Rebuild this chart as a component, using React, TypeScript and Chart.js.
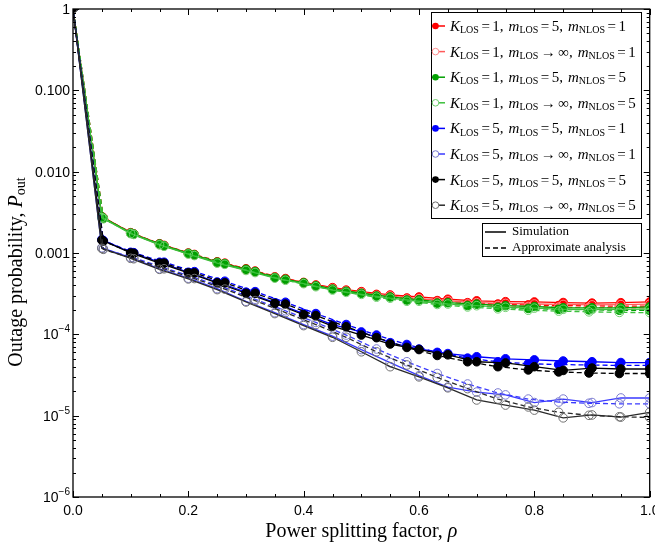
import React, { useEffect, useRef } from "react";
import { Chart, registerables } from "chart.js";
Chart.register(...registerables);

// ---- data ----
const simRho = [0, 0.05, 0.1, 0.15, 0.2, 0.25, 0.3, 0.35, 0.4, 0.45, 0.5, 0.55, 0.6, 0.65, 0.7, 0.75, 0.8, 0.85, 0.9, 0.95, 1.0];
const apxRho = [0, 0.0526, 0.1053, 0.1579, 0.2105, 0.2632, 0.3158, 0.3684, 0.4211, 0.4737, 0.5263, 0.5789, 0.6316, 0.6842, 0.7368, 0.7895, 0.8421, 0.8947, 0.9474, 1.0];

const simA1 = [1, 2.8e-3, 1.78e-3, 1.3e-3, 1.0e-3, 7.8e-4, 6.4e-4, 5.1e-4, 4.35e-4, 3.75e-4, 3.35e-4, 3.05e-4, 2.88e-4, 2.7e-4, 2.58e-4, 2.52e-4, 2.5e-4, 2.46e-4, 2.42e-4, 2.45e-4, 2.5e-4];
const simA2 = [1, 2.75e-3, 1.75e-3, 1.27e-3, 9.8e-4, 7.6e-4, 6.2e-4, 5.0e-4, 4.25e-4, 3.65e-4, 3.25e-4, 2.95e-4, 2.75e-4, 2.58e-4, 2.45e-4, 2.4e-4, 2.36e-4, 2.33e-4, 2.3e-4, 2.32e-4, 2.35e-4];
const simA3 = [1, 2.78e-3, 1.76e-3, 1.29e-3, 9.9e-4, 7.7e-4, 6.3e-4, 5.0e-4, 4.3e-4, 3.6e-4, 3.2e-4, 2.88e-4, 2.65e-4, 2.45e-4, 2.35e-4, 2.25e-4, 2.2e-4, 2.12e-4, 2.12e-4, 2.12e-4, 2.18e-4];
const simA4 = [1, 2.72e-3, 1.73e-3, 1.26e-3, 9.7e-4, 7.5e-4, 6.1e-4, 4.9e-4, 4.2e-4, 3.5e-4, 3.1e-4, 2.78e-4, 2.55e-4, 2.36e-4, 2.25e-4, 2.15e-4, 2.1e-4, 2.03e-4, 2.02e-4, 2.03e-4, 2.05e-4];
const simB5 = [1, 1.46e-3, 1.02e-3, 7.7e-4, 5.8e-4, 4.4e-4, 3.3e-4, 2.45e-4, 1.8e-4, 1.32e-4, 1.07e-4, 7.9e-5, 6.6e-5, 5.8e-5, 5.3e-5, 5.0e-5, 4.85e-5, 4.7e-5, 4.6e-5, 4.5e-5, 4.5e-5];
const simB6 = [1, 1.16e-3, 8.8e-4, 6.4e-4, 4.9e-4, 3.65e-4, 2.55e-4, 1.85e-4, 1.32e-4, 9.5e-5, 6.5e-5, 4.5e-5, 3.1e-5, 2.25e-5, 1.95e-5, 1.8e-5, 1.45e-5, 1.6e-5, 1.45e-5, 1.65e-5, 1.65e-5];
const simB7 = [1, 1.44e-3, 1.0e-3, 7.5e-4, 5.7e-4, 4.3e-4, 3.2e-4, 2.4e-4, 1.74e-4, 1.26e-4, 9.8e-5, 7.6e-5, 6.5e-5, 5.6e-5, 4.6e-5, 4.45e-5, 4.0e-5, 3.6e-5, 3.85e-5, 3.75e-5, 3.75e-5];
const simB8 = [1, 1.14e-3, 8.6e-4, 6.3e-4, 4.8e-4, 3.55e-4, 2.5e-4, 1.8e-4, 1.28e-4, 9.2e-5, 6.1e-5, 4.0e-5, 3.0e-5, 2.2e-5, 1.56e-5, 1.35e-5, 1.17e-5, 9.4e-6, 1.02e-5, 9.6e-6, 1.1e-5];

const apxA1 = [1, 2.7e-3, 1.72e-3, 1.24e-3, 9.6e-4, 7.5e-4, 6.0e-4, 4.85e-4, 4.05e-4, 3.5e-4, 3.1e-4, 2.8e-4, 2.6e-4, 2.45e-4, 2.36e-4, 2.3e-4, 2.26e-4, 2.24e-4, 2.22e-4, 2.22e-4];
const apxA2 = [1, 2.66e-3, 1.7e-3, 1.22e-3, 9.4e-4, 7.35e-4, 5.85e-4, 4.72e-4, 3.95e-4, 3.4e-4, 3.0e-4, 2.7e-4, 2.5e-4, 2.36e-4, 2.26e-4, 2.2e-4, 2.16e-4, 2.14e-4, 2.12e-4, 2.12e-4];
const apxA3 = [1, 2.68e-3, 1.71e-3, 1.23e-3, 9.5e-4, 7.4e-4, 5.9e-4, 4.75e-4, 3.95e-4, 3.38e-4, 2.96e-4, 2.64e-4, 2.42e-4, 2.26e-4, 2.15e-4, 2.08e-4, 2.03e-4, 2.0e-4, 1.98e-4, 1.97e-4];
const apxA4 = [1, 2.64e-3, 1.69e-3, 1.21e-3, 9.3e-4, 7.25e-4, 5.75e-4, 4.62e-4, 3.85e-4, 3.28e-4, 2.86e-4, 2.55e-4, 2.33e-4, 2.17e-4, 2.06e-4, 1.98e-4, 1.93e-4, 1.89e-4, 1.86e-4, 1.85e-4];
const apxB5 = [1, 1.42e-3, 1.01e-3, 7.7e-4, 5.9e-4, 4.5e-4, 3.35e-4, 2.48e-4, 1.8e-4, 1.32e-4, 9.8e-5, 7.5e-5, 6.0e-5, 5.1e-5, 4.6e-5, 4.35e-5, 4.25e-5, 4.2e-5, 4.15e-5, 4.15e-5];
const apxB6 = [1, 1.13e-3, 8.7e-4, 6.6e-4, 5.0e-4, 3.75e-4, 2.7e-4, 1.95e-4, 1.4e-4, 9.8e-5, 6.6e-5, 4.6e-5, 3.3e-5, 2.45e-5, 1.9e-5, 1.6e-5, 1.47e-5, 1.42e-5, 1.4e-5, 1.4e-5];
const apxB7 = [1, 1.4e-3, 9.9e-4, 7.5e-4, 5.7e-4, 4.3e-4, 3.2e-4, 2.35e-4, 1.7e-4, 1.24e-4, 9.1e-5, 6.9e-5, 5.5e-5, 4.6e-5, 4.0e-5, 3.65e-5, 3.45e-5, 3.35e-5, 3.3e-5, 3.3e-5];
const apxB8 = [1, 1.11e-3, 8.5e-4, 6.4e-4, 4.85e-4, 3.6e-4, 2.6e-4, 1.85e-4, 1.32e-4, 9.2e-5, 6.1e-5, 4.2e-5, 2.95e-5, 2.15e-5, 1.6e-5, 1.28e-5, 1.1e-5, 1.01e-5, 9.7e-6, 9.5e-6];

const simSeries = [simA1, simA2, simA3, simA4, simB5, simB6, simB7, simB8];
const apxSeries = [apxA1, apxA2, apxA3, apxA4, apxB5, apxB6, apxB7, apxB8];

const kLos = ["1", "1", "1", "1", "5", "5", "5", "5"];
const mLos = ["5", "∞", "5", "∞", "5", "∞", "5", "∞"];
const mNlos = ["1", "1", "5", "5", "1", "1", "5", "5"];

const yTickValues = [1e-6, 1e-5, 1e-4, 1e-3, 1e-2, 1e-1, 1];
const yTickMain = ["10", "10", "10", "0.001", "0.010", "0.100", "1"];
const yTickSup = ["−6", "−5", "−4", "", "", "", ""];

const xTitle = "Power splitting factor, ";
const yTitle = "Outage probability, ";
const legendSim = "Simulation";
const legendApx = "Approximate analysis";

// ---- styles ----
const lineColors = ["#ff0000", "#ff5a5a", "#00a000", "#3cc03c", "#0000ff", "#3a3aff", "#000000", "#2a2a2a"];
const markerColors = ["#ff0000", "#ff9090", "#00a000", "#70d070", "#0000ff", "#7a7ad0", "#000000", "#707070"];
const filled = [true, false, true, false, true, false, true, false];

const SERIF = "'Liberation Serif', 'Times New Roman', serif";
const SANS = "'Liberation Sans', Arial, sans-serif";

type Part = { t: string; it?: boolean; sub?: boolean; gap?: number };

function drawMath(ctx: CanvasRenderingContext2D, x: number, y: number, parts: Part[]) {
  let cx = x;
  for (const p of parts) {
    if (p.gap) { cx += p.gap; continue; }
    if (p.sub) ctx.font = `10px ${SERIF}`;
    else ctx.font = `${p.it ? "italic " : ""}15px ${SERIF}`;
    ctx.fillText(p.t, cx, p.sub ? y + 3.5 : y);
    cx += ctx.measureText(p.t).width;
  }
}

const framePlugin = {
  id: "frame",
  afterDraw(chart: any) {
    const { ctx, chartArea: a, scales } = chart;
    const xs = scales.x, ys = scales.y;
    ctx.save();
    // ticks
    ctx.strokeStyle = "#000";
    ctx.lineWidth = 1;
    ctx.beginPath();
    for (let i = 0; i <= 20; i++) {
      const px = Math.round(xs.getPixelForValue(i / 20)) + 0.5;
      const len = i % 4 === 0 ? 6 : 3;
      ctx.moveTo(px, a.bottom); ctx.lineTo(px, a.bottom - len);
      ctx.moveTo(px, a.top); ctx.lineTo(px, a.top + len);
    }
    for (let d = -6; d <= 0; d++) {
      for (let m = 1; m <= 9; m++) {
        const v = m * Math.pow(10, d);
        if (v > 1.0001) break;
        const py = Math.round(ys.getPixelForValue(v)) + 0.5;
        const len = m === 1 ? 6 : 3;
        ctx.moveTo(a.left, py); ctx.lineTo(a.left + len, py);
        ctx.moveTo(a.right, py); ctx.lineTo(a.right - len, py);
      }
    }
    ctx.stroke();
    ctx.lineWidth = 1.3;
    ctx.strokeRect(a.left, a.top, a.right - a.left, a.bottom - a.top);

    // y tick labels (with superscript exponents)
    ctx.fillStyle = "#000";
    ctx.textAlign = "left";
    ctx.textBaseline = "alphabetic";
    for (let i = 0; i < yTickValues.length; i++) {
      const py = ys.getPixelForValue(yTickValues[i]);
      const right = a.left - 3;
      ctx.font = `10px ${SANS}`;
      const ws = yTickSup[i] ? ctx.measureText(yTickSup[i]).width : 0;
      ctx.font = `14px ${SANS}`;
      const wm = ctx.measureText(yTickMain[i]).width;
      const x0 = right - ws - wm;
      ctx.fillText(yTickMain[i], x0, py + 5);
      if (yTickSup[i]) {
        ctx.font = `10px ${SANS}`;
        ctx.fillText(yTickSup[i], x0 + wm, py - 2);
      }
    }

    // axis titles
    ctx.font = `20px ${SERIF}`;
    const wx = ctx.measureText(xTitle).width;
    ctx.font = `italic 20px ${SERIF}`;
    const wr = ctx.measureText("ρ").width;
    const x0 = (a.left + a.right) / 2 - (wx + wr) / 2;
    ctx.font = `20px ${SERIF}`;
    ctx.fillText(xTitle, x0, 537);
    ctx.font = `italic 20px ${SERIF}`;
    ctx.fillText("ρ", x0 + wx, 537);

    ctx.save();
    ctx.translate(22, 272);
    ctx.rotate(-Math.PI / 2);
    ctx.font = `20px ${SERIF}`;
    const w1 = ctx.measureText(yTitle).width;
    ctx.font = `italic 20px ${SERIF}`;
    const wP = ctx.measureText("P").width;
    ctx.font = `14px ${SERIF}`;
    const wo = ctx.measureText("out").width;
    const s = -(w1 + wP + wo) / 2;
    ctx.font = `20px ${SERIF}`;
    ctx.fillText(yTitle, s, 0);
    ctx.font = `italic 20px ${SERIF}`;
    ctx.fillText("P", s + w1, 0);
    ctx.font = `14px ${SERIF}`;
    ctx.fillText("out", s + w1 + wP, 3);
    ctx.restore();

    // legend 1
    ctx.fillStyle = "#fff";
    ctx.fillRect(431.5, 12.5, 210, 206);
    ctx.strokeStyle = "#000";
    ctx.lineWidth = 1;
    ctx.strokeRect(431.5, 12.5, 210, 206);
    for (let i = 0; i < 8; i++) {
      const y = 26 + i * 25.6;
      ctx.strokeStyle = lineColors[i];
      ctx.lineWidth = 1.5;
      ctx.setLineDash([]);
      ctx.beginPath();
      ctx.moveTo(432, y); ctx.lineTo(445, y);
      ctx.stroke();
      ctx.beginPath();
      ctx.arc(435.5, y, 3.3, 0, Math.PI * 2);
      if (filled[i]) { ctx.fillStyle = markerColors[i]; ctx.fill(); }
      else { ctx.fillStyle = "#fff"; ctx.fill(); ctx.strokeStyle = markerColors[i]; ctx.lineWidth = 1; ctx.stroke(); }
      ctx.fillStyle = "#000";
      ctx.textBaseline = "middle";
      const inf = mLos[i] === "∞";
      drawMath(ctx, 450, y + 1, [
        { t: "K", it: true }, { t: "LOS", sub: true }, { t: "", gap: 2.5 }, { t: "=" }, { t: "", gap: 2.5 },
        { t: kLos[i] + "," }, { t: "", gap: 5 },
        { t: "m", it: true }, { t: "LOS", sub: true }, { t: "", gap: 2.5 }, { t: inf ? "→" : "=" }, { t: "", gap: 2.5 },
        { t: mLos[i] + "," }, { t: "", gap: 5 },
        { t: "m", it: true }, { t: "NLOS", sub: true }, { t: "", gap: 2.5 }, { t: "=" }, { t: "", gap: 2.5 },
        { t: mNlos[i] },
      ]);
    }

    // legend 2
    ctx.fillStyle = "#fff";
    ctx.fillRect(482.5, 223.5, 159, 33);
    ctx.strokeStyle = "#000";
    ctx.lineWidth = 1;
    ctx.strokeRect(482.5, 223.5, 159, 33);
    ctx.lineWidth = 1.5;
    ctx.beginPath(); ctx.moveTo(485, 232); ctx.lineTo(506, 232); ctx.stroke();
    ctx.setLineDash([5, 3]);
    ctx.beginPath(); ctx.moveTo(485, 248); ctx.lineTo(506, 248); ctx.stroke();
    ctx.setLineDash([]);
    ctx.fillStyle = "#000";
    ctx.font = `13px ${SERIF}`;
    ctx.textBaseline = "middle";
    ctx.fillText(legendSim, 512, 232);
    ctx.fillText(legendApx, 512, 248);
    ctx.restore();
  },
};

export default function App() {
  const ref = useRef<HTMLCanvasElement>(null);
  useEffect(() => {
    const datasets: any[] = [];
    let order = 100;
    for (let i = 0; i < 8; i++) {
      const label = `K_LOS = ${kLos[i]}, m_LOS = ${mLos[i]}, m_NLOS = ${mNlos[i]}`;
      const common = {
        borderColor: lineColors[i],
        borderWidth: 1.3,
        pointRadius: 4.3,
        pointBackgroundColor: filled[i] ? markerColors[i] : "rgba(0,0,0,0)",
        pointBorderColor: markerColors[i],
        pointBorderWidth: 1,
        tension: 0,
        clip: 0,
        fill: false,
      };
      datasets.push({
        ...common,
        label: label + " (simulation)",
        data: simRho.map((r, j) => ({ x: r, y: simSeries[i][j] })),
        order: order--,
      });
      datasets.push({
        ...common,
        label: label + " (approximate analysis)",
        borderDash: [5, 3],
        data: apxRho.map((r, j) => ({ x: r, y: apxSeries[i][j] })),
        order: order--,
      });
    }
    const chart = new Chart(ref.current!, {
      type: "line",
      data: { datasets },
      plugins: [framePlugin],
      options: {
        animation: false,
        responsive: false,
        devicePixelRatio: 1,
        layout: { padding: { top: 9, right: 4, left: 0, bottom: 0 } },
        plugins: { legend: { display: false }, tooltip: { enabled: false } },
        scales: {
          x: {
            type: "linear",
            min: 0,
            max: 1,
            grid: { display: false, drawTicks: false },
            border: { display: false },
            ticks: {
              stepSize: 0.2,
              padding: 6,
              color: "#000",
              font: { family: SANS, size: 14 },
              maxRotation: 0,
              callback: (v: any) => Number(v).toFixed(1),
            },
            afterFit: (s: any) => { s.height = 52; s.paddingLeft = 0; s.paddingRight = 0; },
          },
          y: {
            type: "logarithmic",
            min: 1e-6,
            max: 1,
            grid: { display: false, drawTicks: false },
            border: { display: false },
            afterBuildTicks: (s: any) => { s.ticks = yTickValues.map((v) => ({ value: v })); },
            ticks: { display: false },
            afterFit: (s: any) => { s.width = 73; s.paddingTop = 0; s.paddingBottom = 0; },
          },
        },
      },
    });
    return () => chart.destroy();
  }, []);
  return (
    <div style={{ position: "absolute", left: 0, top: 0, width: 655, height: 549, background: "#fff" }}>
      <canvas ref={ref} width={655} height={549} style={{ display: "block" }} />
    </div>
  );
}
